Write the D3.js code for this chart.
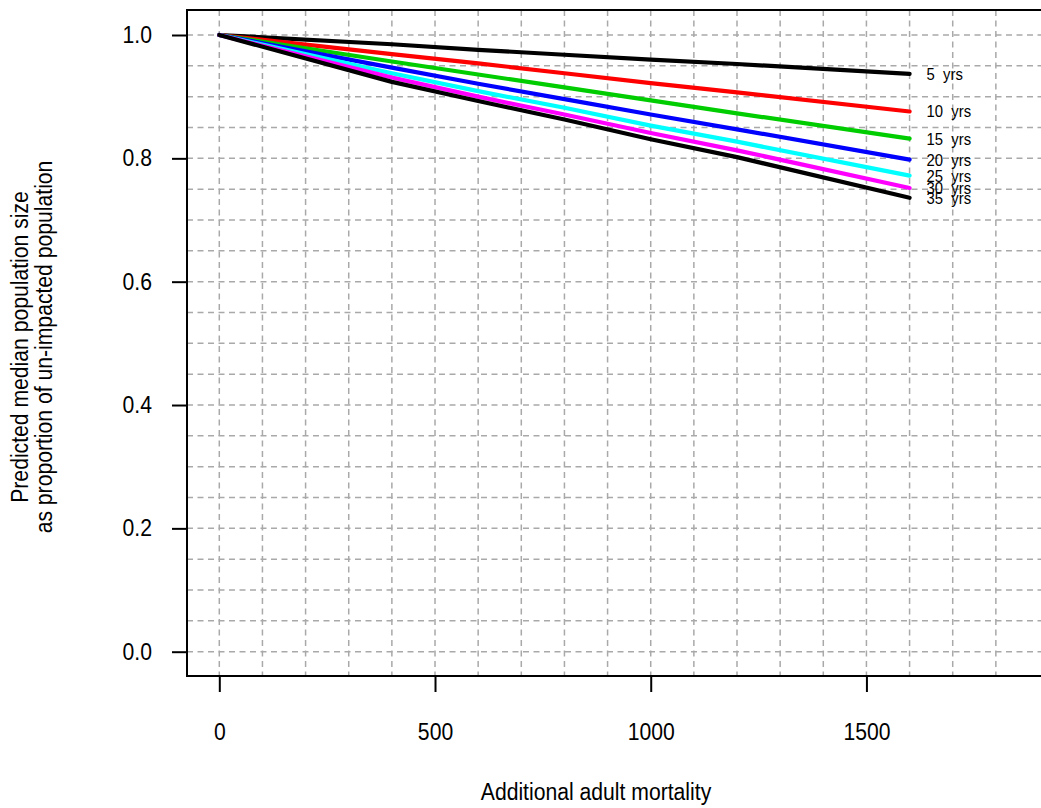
<!DOCTYPE html>
<html>
<head>
<meta charset="utf-8">
<script src="https://cdn.jsdelivr.net/npm/d3@7"></script>
<style>
  html, body { margin: 0; padding: 0; background: #fff; }
  svg { display: block; }
  text { font-family: "Liberation Sans", Arial, Helvetica, sans-serif; fill: #000; white-space: pre; }
</style>
</head>
<body>
<svg id="chart" width="1041" height="808"></svg>
<script>
// ---- data ----
const mortality = [0, 400, 600, 800, 1000, 1200, 1600];
const years = [5, 10, 15, 20, 25, 30, 35];
const yrs5  = [1, 0.985, 0.976, 0.968, 0.960, 0.953, 0.937];
const yrs10 = [1, 0.969, 0.954, 0.938, 0.922, 0.907, 0.876];
const yrs15 = [1, 0.957, 0.936, 0.915, 0.894, 0.873, 0.832];
const yrs20 = [1, 0.947, 0.921, 0.896, 0.871, 0.847, 0.798];
const yrs25 = [1, 0.938, 0.909, 0.882, 0.853, 0.827, 0.772];
const yrs30 = [1, 0.931, 0.900, 0.871, 0.841, 0.813, 0.752];
const yrs35 = [1, 0.924, 0.893, 0.863, 0.831, 0.802, 0.736];
const seriesValues = [yrs5, yrs10, yrs15, yrs20, yrs25, yrs30, yrs35];
const seriesColors = ["#000000", "#FF0000", "#00CD00", "#0000FF", "#00FFFF", "#FF00FF", "#000000"];
const xTicks = [0, 500, 1000, 1500];
const yTicks = [0, 0.2, 0.4, 0.6, 0.8, 1.0];
const xGrid = d3.range(0, 1801, 100);
const yGrid = d3.range(0, 1.0001, 0.05);

// ---- layout ----
const svg = d3.select("#chart");
const x = d3.scaleLinear().domain([0, 1900]).range([219.3, 1039.0]);
const y = d3.scaleLinear().domain([0, 1]).range([651.7, 35]);
const box = { left: 187, top: 10, bottom: 676, right: 1080 };
const FS = "23.5px", FS_SMALL = "16.5px", SQUEEZE = 0.9;

function condense(sel) {
  sel.each(function () {
    const w = this.getComputedTextLength();
    if (w > 0) {
      d3.select(this).attr("textLength", w * SQUEEZE).attr("lengthAdjust", "spacingAndGlyphs");
    }
  });
}

// grid
const grid = svg.append("g")
  .attr("stroke", "#a9a9a9").attr("stroke-width", 1.5)
  .attr("stroke-dasharray", "6,4.5").attr("fill", "none");
grid.selectAll("line.v").data(xGrid).join("line")
  .attr("class", "v")
  .attr("x1", d => x(d)).attr("x2", d => x(d))
  .attr("y1", box.top).attr("y2", box.bottom);
grid.selectAll("line.h").data(yGrid).join("line")
  .attr("class", "h")
  .attr("x1", box.left).attr("x2", box.right)
  .attr("y1", d => y(d)).attr("y2", d => y(d));

// series lines
const line = d3.line().x((d, i) => x(mortality[i])).y(d => y(d));
svg.append("g").selectAll("path").data(seriesValues).join("path")
  .attr("d", d => line(d))
  .attr("fill", "none")
  .attr("stroke", (d, i) => seriesColors[i])
  .attr("stroke-width", 4.2)
  .attr("stroke-linecap", "round")
  .attr("stroke-linejoin", "round");

// series labels
const last = mortality.length - 1;
svg.append("g").selectAll("text").data(seriesValues).join("text")
  .attr("x", x(mortality[last]) + 17)
  .attr("y", d => y(d[last]))
  .attr("dy", "0.36em")
  .attr("font-size", FS_SMALL)
  .text((d, i) => years[i] + "  yrs")
  .call(condense);

// box (right edge falls outside the image)
svg.append("path")
  .attr("d", `M${box.right},${box.top}H${box.left}V${box.bottom}H${box.right}`)
  .attr("fill", "none").attr("stroke", "#000").attr("stroke-width", 2);

// x axis
const xAxis = svg.append("g").attr("transform", `translate(0,${box.bottom})`)
  .call(d3.axisBottom(x).tickValues(xTicks).tickSize(16).tickPadding(31)
        .tickFormat(d3.format("d")));
xAxis.select(".domain").remove();
xAxis.selectAll(".tick line").attr("stroke", "#000").attr("stroke-width", 2);
xAxis.selectAll(".tick text").attr("font-size", FS)
  .attr("font-family", "Liberation Sans, Arial, sans-serif").call(condense);

// y axis
const yAxis = svg.append("g").attr("transform", `translate(${box.left},0)`)
  .call(d3.axisLeft(y).tickValues(yTicks).tickSize(15).tickPadding(20)
        .tickFormat(d3.format(".1f")));
yAxis.select(".domain").remove();
yAxis.selectAll(".tick line").attr("stroke", "#000").attr("stroke-width", 2);
yAxis.selectAll(".tick text").attr("font-size", FS)
  .attr("font-family", "Liberation Sans, Arial, sans-serif").call(condense);

// axis titles
svg.append("text")
  .attr("x", 596).attr("y", 800)
  .attr("text-anchor", "middle").attr("font-size", FS)
  .text("Additional adult mortality").call(condense);
const yt = svg.append("g").attr("transform", "translate(0,347) rotate(-90)");
yt.append("text").attr("x", 0).attr("y", 28)
  .attr("text-anchor", "middle").attr("font-size", FS)
  .text("Predicted median population size").call(condense);
yt.append("text").attr("x", 0).attr("y", 52)
  .attr("text-anchor", "middle").attr("font-size", FS)
  .text("as proportion of un-impacted population").call(condense);
</script>
</body>
</html>
